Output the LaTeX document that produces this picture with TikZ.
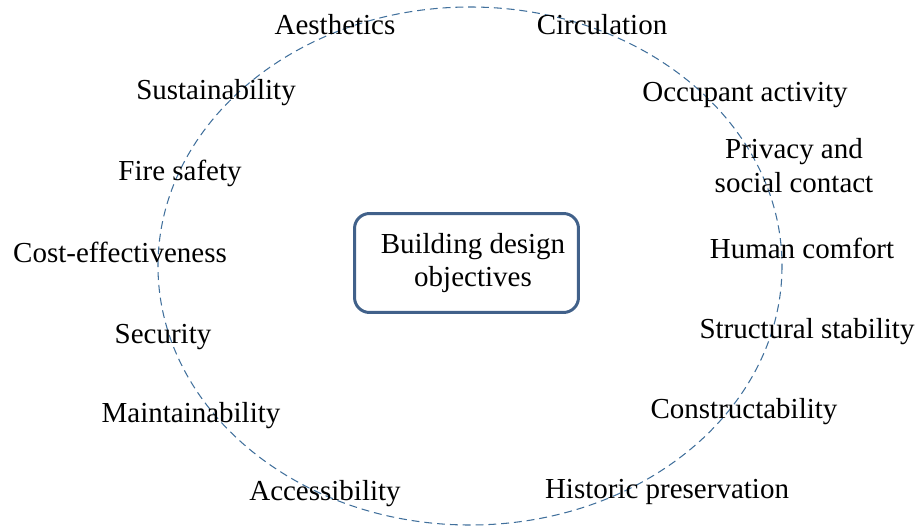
\documentclass[tikz,border=0pt]{standalone}
\usepackage{fontspec}
\setmainfont{Liberation Serif}
\usetikzlibrary{shapes}
\definecolor{ringblue}{HTML}{41709C}
\definecolor{boxblue}{HTML}{41618A}
\tikzset{objective/.style={anchor=base,inner sep=0pt,align=center,font=\fontsize{16.5}{19.4}\selectfont},
  goal/.style={draw=boxblue,line width=1.7pt,rounded corners=0.3cm,align=center,font=\fontsize{16.5}{18.4}\selectfont}}
\newcommand{\objective}[4]{\node[objective] (#1) at (#2,#3) {#4};}

\begin{document}
\begin{tikzpicture}[x=0.02cm,y=-0.02cm]
    \useasboundingbox (0,0) rectangle (919,527);
    \draw[ringblue,line width=0.6pt,dash pattern=on 4.5pt off 2.8pt] (470,266) ellipse [x radius=312,y radius=259];
    \node[goal,minimum width=4.48cm,minimum height=1.98cm] (goal) at (466.5,263) {\hspace*{0.26cm}Building design\\\hspace*{0.26cm}objectives};
    \objective{aes}{335}{35}{Aesthetics}    \objective{circ}{602}{35}{Circulation}
    \objective{sust}{216}{100}{Sustainability}    \objective{occ}{745}{102}{Occupant activity}
    \objective{fire}{180}{180}{Fire safety}    \node[objective,anchor=center] (priv) at (794,166) {Privacy and\\social contact};
    \objective{cost}{120}{262}{Cost-effectiveness}    \objective{human}{802}{258}{Human comfort}
    \objective{sec}{163}{343}{Security}    \objective{struct}{807}{338}{Structural stability}
    \objective{maint}{191}{422}{Maintainability}    \objective{constr}{744}{418}{Constructability}
    \objective{acc}{325}{500}{Accessibility}    \objective{hist}{667}{498}{Historic preservation}
\end{tikzpicture}
\end{document}
